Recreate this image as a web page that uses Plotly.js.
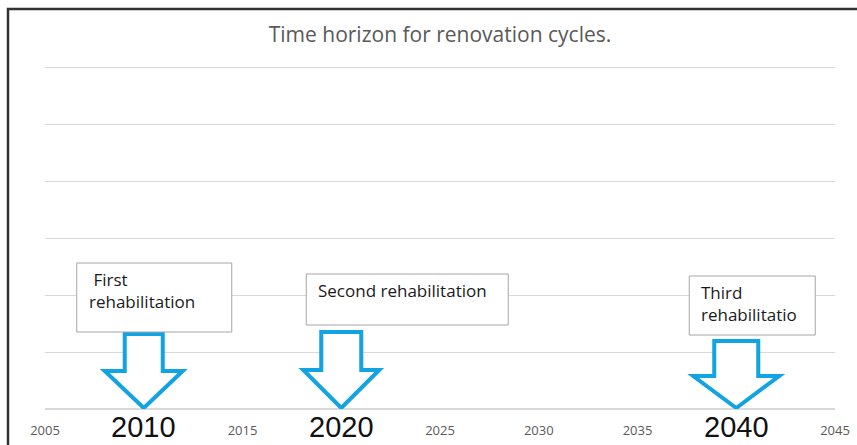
<!DOCTYPE html>
<html>
<head>
<meta charset="utf-8">
<script src="https://cdn.plot.ly/plotly-3.0.1.min.js"></script>
<style>
  html, body { margin: 0; padding: 0; background: #ffffff; }
  #chart { width: 857px; height: 445px; }
</style>
</head>
<body>
<div id="chart"></div>
<script>
// ---- Data ----
const chartTitle = 'Time horizon for renovation cycles.';
const axisTickValues = [2005, 2010, 2015, 2020, 2025, 2030, 2035, 2040, 2045];
const rehabYears = [2010, 2020, 2040];
const rehabYearLabels = ['2010', '2020', '2040'];
const rehabLabelLines = [
  ['\u00a0First', 'rehabilitation'],
  ['Second rehabilitation'],
  ['Third', 'rehabilitatio']
];

// ---- Style / geometry (pixels, relative to each year's position) ----
const X_RANGE = [2005, 2045];
const Y_RANGE = [0, 6.03];
const PLOT = { l: 45, r: 22, t: 66, b: 36 };
const W = 857, H = 445;
const PX_X = (W - PLOT.l - PLOT.r) / (X_RANGE[1] - X_RANGE[0]);
const PX_Y = (H - PLOT.t - PLOT.b) / (Y_RANGE[1] - Y_RANGE[0]);
const dx = px => px / PX_X;   // px -> years
const dy = px => px / PX_Y;   // px -> y units

// arrow: shaft half-width, head half-width, head height, total height (px)
const arrowStyle = [
  { sw: 19, hw: 39, hh: 38, h: 75 },
  { sw: 20, hw: 38, hh: 39, h: 77 },
  { sw: 22, hw: 43, hh: 33, h: 68 }
];
// box: left/right offset from year (px), top/bottom height above axis (px)
const boxStyle = [
  { l: -67, r: 88, top: 146, bot: 77 },
  { l: -35, r: 167, top: 135, bot: 84 },
  { l: -47, r: 79, top: 133, bot: 74 }
];
const ARROW_COLOR = '#12A3E3';

const shapes = [];
const annotations = [];

// outer frame
const pxToPaperX = px => (px - PLOT.l) / (W - PLOT.l - PLOT.r);
const pxToPaperY = py => (H - PLOT.b - py) / (H - PLOT.t - PLOT.b);
shapes.push({
  type: 'path', xref: 'paper', yref: 'paper', layer: 'above',
  path: `M ${pxToPaperX(8)},${pxToPaperY(H + 5)} L ${pxToPaperX(8)},${pxToPaperY(9)} L ${pxToPaperX(W + 5)},${pxToPaperY(9)}`,
  line: { color: '#333333', width: 2.5 }
});

rehabYears.forEach((yr, i) => {
  const a = arrowStyle[i];
  const tipY = dy(1);
  const top = dy(a.h), hb = dy(a.hh);
  const sl = yr - dx(a.sw), sr = yr + dx(a.sw);
  const hl = yr - dx(a.hw), hr = yr + dx(a.hw);
  shapes.push({
    type: 'path', xref: 'x', yref: 'y', layer: 'above',
    path: `M ${sl},${top} L ${sr},${top} L ${sr},${hb} L ${hr},${hb} L ${yr},${tipY} L ${hl},${hb} L ${sl},${hb} Z`,
    line: { color: ARROW_COLOR, width: 4 },
    fillcolor: '#ffffff'
  });

  const b = boxStyle[i];
  shapes.push({
    type: 'rect', xref: 'x', yref: 'y', layer: 'above',
    x0: yr + dx(b.l), x1: yr + dx(b.r),
    y0: dy(b.bot), y1: dy(b.top),
    line: { color: '#a6a6a6', width: 1 },
    fillcolor: '#ffffff'
  });
  annotations.push({
    xref: 'x', yref: 'y', x: yr + dx(b.l), y: dy(b.top),
    xanchor: 'left', yanchor: 'top', xshift: 10, yshift: -3,
    align: 'left', showarrow: false,
    text: rehabLabelLines[i].join('<br>'),
    font: { family: 'Open Sans, sans-serif', size: 17, color: '#1a1a1a' }
  });

  annotations.push({
    xref: 'x', yref: 'paper', x: yr, y: 0,
    xanchor: 'center', yanchor: 'middle', yshift: -18,
    showarrow: false, text: rehabYearLabels[i],
    font: { family: 'Liberation Sans, Arial, sans-serif', size: 29, color: '#111111' }
  });
});

const tickText = axisTickValues.map(v => rehabYears.includes(v) ? '' : String(v));

const data = [{
  type: 'scatter', mode: 'markers',
  x: rehabYears, y: rehabYears.map(() => 0),
  marker: { size: 1, color: 'rgba(0,0,0,0)' },
  hoverinfo: 'skip', showlegend: false
}];

const layout = {
  width: W, height: H,
  margin: PLOT,
  paper_bgcolor: '#ffffff', plot_bgcolor: '#ffffff',
  showlegend: false,
  title: {
    text: chartTitle, xref: 'paper', x: 0.5, xanchor: 'center',
    yref: 'container', y: 1 - 35 / H, yanchor: 'middle',
    font: { family: 'Open Sans, sans-serif', size: 21, color: '#595959' }
  },
  xaxis: {
    range: X_RANGE, tickmode: 'array', tickvals: axisTickValues, ticktext: tickText,
    showgrid: false, zeroline: false, showline: false, ticks: '',
    ticklabelstandoff: 12,
    tickfont: { family: 'Open Sans, sans-serif', size: 13, color: '#595959' },
    fixedrange: true
  },
  yaxis: {
    range: Y_RANGE, dtick: 1, tick0: 0, showticklabels: false,
    showgrid: true, gridcolor: '#d9d9d9', gridwidth: 1,
    zeroline: true, zerolinecolor: '#d9d9d9', zerolinewidth: 1.5,
    showline: false, ticks: '', fixedrange: true
  },
  shapes: shapes,
  annotations: annotations
};

Plotly.newPlot('chart', data, layout, { displayModeBar: false, staticPlot: true });
</script>
</body>
</html>
